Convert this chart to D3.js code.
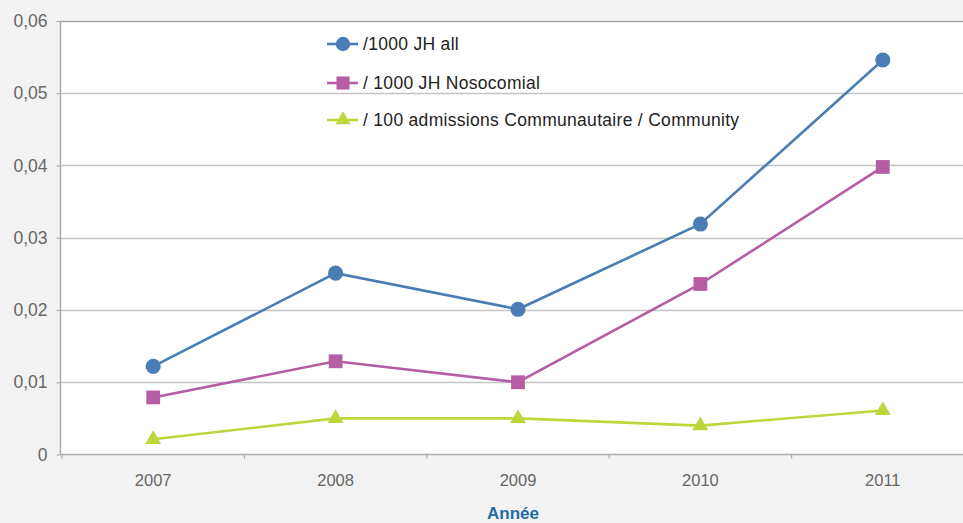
<!DOCTYPE html>
<html>
<head>
<meta charset="utf-8">
<script src="https://cdn.jsdelivr.net/npm/d3@7"></script>
<style>
  html, body { margin: 0; padding: 0; background: #f3f3f3; }
  svg { display: block; font-family: "Liberation Sans", Arial, sans-serif; }
</style>
</head>
<body>
<svg id="chart" width="963" height="523"></svg>
<script>
// Years on the horizontal axis
const years = ["2007", "2008", "2009", "2010", "2011"];

// Rates per year, one array per series
const allPer1000 = [0.0122, 0.0251, 0.0201, 0.0319, 0.0546];
const nosoPer1000 = [0.0079, 0.0129, 0.0100, 0.0236, 0.0398];
const commPer100 = [0.0021, 0.0050, 0.0050, 0.0040, 0.0061];

const seriesNames = [
  "/1000 JH all",
  "/ 1000 JH Nosocomial",
  "/ 100 admissions Communautaire / Community"
];

const yTicks = [0, 0.01, 0.02, 0.03, 0.04, 0.05, 0.06];
const xTitle = "Année";

const series = [
  { name: seriesNames[0], values: allPer1000, color: "#4a7db3", symbol: d3.symbolCircle, size: 180 },
  { name: seriesNames[1], values: nosoPer1000, color: "#b55ea3", symbol: d3.symbolSquare, size: 190 },
  { name: seriesNames[2], values: commPer100, color: "#bed53c", symbol: d3.symbolTriangle, size: 110 }
];

const svg = d3.select("#chart");
const plot = { left: 60.5, top: 21, bottom: 454.5, right: 963 };

const x = d3.scaleBand().domain(years).range([62, 974]).padding(0);
const y = d3.scaleLinear().domain([0, 0.06]).range([plot.bottom, plot.top]);

// White plotting area
svg.append("rect")
  .attr("x", plot.left).attr("y", plot.top)
  .attr("width", plot.right - plot.left).attr("height", plot.bottom - plot.top)
  .attr("fill", "#ffffff");

// Horizontal gridlines
svg.append("g").selectAll("line")
  .data(yTicks.filter(d => d > 0))
  .join("line")
  .attr("x1", plot.left).attr("x2", plot.right)
  .attr("y1", d => Math.round(y(d)) + 0.5).attr("y2", d => Math.round(y(d)) + 0.5)
  .attr("stroke", d => d === 0.06 ? "#a8a8a8" : "#c4c4c4")
  .attr("stroke-width", 1.5);

// Y axis
const fmt = d => d === 0 ? "0" : d3.format(".2f")(d).replace(".", ",");
const yAxis = svg.append("g")
  .attr("transform", `translate(${plot.left},0)`)
  .call(d3.axisLeft(y).tickValues(yTicks).tickFormat(fmt).tickSize(4).tickPadding(9));
yAxis.select(".domain").attr("stroke", "#aaaaaa").attr("stroke-width", 1.5)
  .attr("d", `M0,${plot.top}V${plot.bottom}`);
yAxis.selectAll(".tick line").attr("stroke", "#aaaaaa").attr("stroke-width", 1.2);
yAxis.selectAll(".tick text")
  .attr("fill", "#666666").attr("font-size", 17.5);

// X axis
const xAxis = svg.append("g")
  .attr("transform", `translate(0,${plot.bottom})`)
  .call(d3.axisBottom(x).tickSize(0).tickPadding(20));
xAxis.select(".domain").remove();
xAxis.append("line")
  .attr("x1", plot.left).attr("x2", plot.right)
  .attr("y1", 0).attr("y2", 0)
  .attr("stroke", "#aaaaaa").attr("stroke-width", 1.5);
xAxis.selectAll(".bound")
  .data(years.map(d => x(d)).concat([x(years[years.length - 1]) + x.bandwidth()]))
  .join("line")
  .attr("class", "bound")
  .attr("x1", d => d).attr("x2", d => d)
  .attr("y1", 0).attr("y2", 4)
  .attr("stroke", "#aaaaaa").attr("stroke-width", 1.2);
xAxis.selectAll(".tick text")
  .attr("fill", "#666666").attr("font-size", 16.5);

// Axis title
svg.append("text")
  .attr("x", x("2009") + x.bandwidth() / 2 - 5).attr("y", 519)
  .attr("text-anchor", "middle")
  .attr("font-size", 17).attr("font-weight", "bold")
  .attr("fill", "#1f6aa6")
  .text(xTitle);

// Lines and markers
const cx = d => x(d) + x.bandwidth() / 2;
const line = d3.line().x((v, i) => cx(years[i])).y(v => y(v));

series.forEach(s => {
  svg.append("path")
    .datum(s.values)
    .attr("d", line)
    .attr("fill", "none")
    .attr("stroke", s.color)
    .attr("stroke-width", 2.6);
  svg.append("g").selectAll("path")
    .data(s.values)
    .join("path")
    .attr("transform", (v, i) => `translate(${cx(years[i])},${y(v)})`)
    .attr("d", d3.symbol().type(s.symbol).size(s.size))
    .attr("fill", s.color);
});

// Legend
const legendRows = [44, 83, 120];
const legend = svg.append("g");
series.forEach((s, i) => {
  const g = legend.append("g").attr("transform", `translate(327,${legendRows[i]})`);
  g.append("line").attr("x1", 0).attr("x2", 31).attr("y1", 0).attr("y2", 0)
    .attr("stroke", s.color).attr("stroke-width", 2.6);
  g.append("path").attr("transform", "translate(16,0)")
    .attr("d", d3.symbol().type(s.symbol).size(s.size * 0.9))
    .attr("fill", s.color);
  g.append("text").attr("x", 36).attr("y", 0).attr("dy", "0.36em")
    .attr("font-size", 17.5).attr("letter-spacing", 0.3).attr("fill", "#222222")
    .text(s.name);
});
</script>
</body>
</html>
